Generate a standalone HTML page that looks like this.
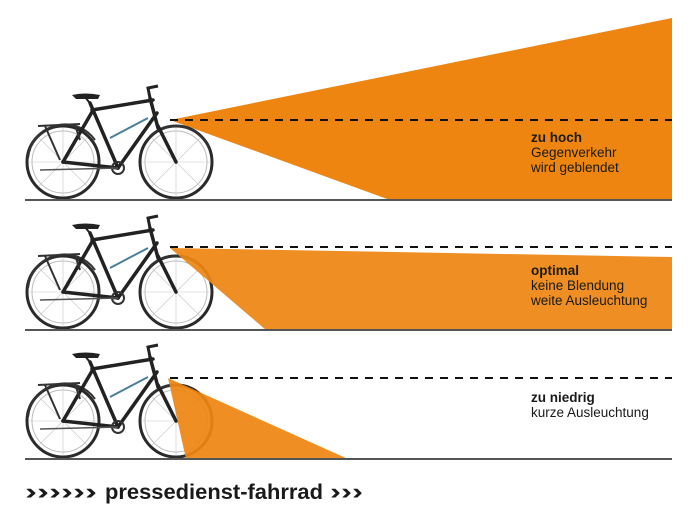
<!DOCTYPE html>
<html><head><meta charset="utf-8"><style>
html,body{margin:0;padding:0;background:#fff;}
svg{display:block;}
text{font-family:"Liberation Sans",sans-serif;fill:#1a1a1a;}
</style></head><body>
<svg width="700" height="525" viewBox="0 0 700 525" xmlns="http://www.w3.org/2000/svg">
<defs>
<g id="bike">
  <g fill="none" stroke="#2a2a2a">
    <circle cx="63" cy="162" r="36" stroke-width="3"/>
    <circle cx="176" cy="162" r="36" stroke-width="3"/>
    <circle cx="63" cy="162" r="31" stroke="#bbb" stroke-width="1"/>
    <circle cx="176" cy="162" r="31" stroke="#bbb" stroke-width="1"/>
  </g>
  <g stroke="#c8c8c8" stroke-width="0.6">
    <line x1="63" y1="128" x2="63" y2="196"/><line x1="29" y1="162" x2="97" y2="162"/>
    <line x1="39" y1="138" x2="87" y2="186"/><line x1="87" y1="138" x2="39" y2="186"/>
    <line x1="176" y1="128" x2="176" y2="196"/><line x1="142" y1="162" x2="210" y2="162"/>
    <line x1="152" y1="138" x2="200" y2="186"/><line x1="200" y1="138" x2="152" y2="186"/>
  </g>
  <path d="M28 158 A37 37 0 0 1 95 140" fill="none" stroke="#333" stroke-width="2"/>
  <path d="M150 136 A37 37 0 0 1 210 150" fill="none" stroke="#333" stroke-width="2"/>
  <g stroke="#222" stroke-width="3.5" fill="none" stroke-linecap="round">
    <line x1="118" y1="168" x2="90" y2="103"/>
    <line x1="118" y1="168" x2="157" y2="113"/>
    <line x1="92" y1="110" x2="153" y2="100"/>
    <line x1="150" y1="98" x2="158" y2="128"/>
    <line x1="158" y1="126" x2="176" y2="162"/>
    <line x1="63" y1="162" x2="118" y2="168"/>
    <line x1="63" y1="162" x2="92" y2="112"/>
  </g>
  <line x1="110" y1="138" x2="148" y2="118" stroke="#4a7f9a" stroke-width="2"/>
  <path d="M38 126 L80 124 M45 126 L60 160 M75 125 L80 140" stroke="#333" stroke-width="2" fill="none"/>
  <line x1="89" y1="102" x2="85" y2="97" stroke="#222" stroke-width="2"/>
  <path d="M72 95 Q85 92 100 95 L98 99 L76 99 Z" fill="#222"/>
  <path d="M150 98 L148 88 L158 86" stroke="#222" stroke-width="3" fill="none"/>
  <circle cx="118" cy="168" r="6" fill="none" stroke="#333" stroke-width="2"/>
  <line x1="40" y1="170" x2="118" y2="168" stroke="#555" stroke-width="1.5"/>
</g>
</defs>

<polygon points="170,120 672,18 672,200 390,200" fill="#ee8511"/>
<use href="#bike"/>
<line x1="170" y1="120" x2="672" y2="120" stroke="#111" stroke-width="2" stroke-dasharray="8,7"/>
<line x1="25" y1="200" x2="672" y2="200" stroke="#555" stroke-width="2"/>
<text x="531" y="142" font-size="13.5" font-weight="bold">zu hoch</text>
<text x="531" y="157" font-size="13.5">Gegenverkehr</text>
<text x="531" y="172" font-size="13.5">wird geblendet</text>

<use href="#bike" transform="translate(0,130)"/>
<polygon points="170,248 672,257 672,330 266,330" fill="#ee8511" fill-opacity="0.93"/>
<line x1="170" y1="247" x2="672" y2="247" stroke="#111" stroke-width="2" stroke-dasharray="8,7"/>
<line x1="25" y1="330" x2="672" y2="330" stroke="#555" stroke-width="2"/>
<text x="531" y="275" font-size="13.5" font-weight="bold">optimal</text>
<text x="531" y="290" font-size="13.5">keine Blendung</text>
<text x="531" y="305" font-size="13.5">weite Ausleuchtung</text>

<use href="#bike" transform="translate(0,259)"/>
<polygon points="168,378 348,459 186,459" fill="#ee8511" fill-opacity="0.93"/>
<line x1="170" y1="378" x2="672" y2="378" stroke="#111" stroke-width="2" stroke-dasharray="8,7"/>
<line x1="25" y1="459" x2="672" y2="459" stroke="#555" stroke-width="2"/>
<text x="531" y="402" font-size="13.5" font-weight="bold">zu niedrig</text>
<text x="531" y="417" font-size="13.5">kurze Ausleuchtung</text>

<text x="25" y="499" font-size="22" font-weight="bold" textLength="72" lengthAdjust="spacingAndGlyphs">››››››</text>
<text x="105" y="499" font-size="21" font-weight="bold" textLength="218" lengthAdjust="spacingAndGlyphs">pressedienst-fahrrad</text>
<text x="330" y="499" font-size="22" font-weight="bold" textLength="33" lengthAdjust="spacingAndGlyphs">›››</text>
</svg>
</body></html>
